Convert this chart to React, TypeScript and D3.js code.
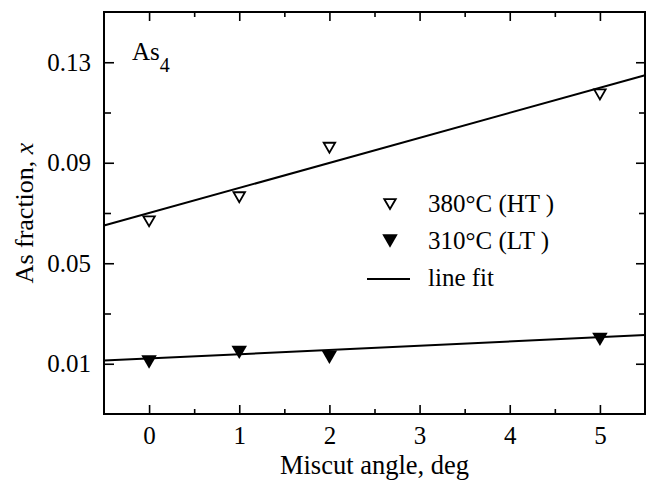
import React from 'react';
import * as d3 from 'd3';

// miscut angle (deg) where samples were measured
const angles = [0, 1, 2, 5];
// As fraction x, grown at 380 C (HT) and 310 C (LT)
const htValues = [0.0667, 0.0763, 0.096, 0.1172];
const ltValues = [0.0107, 0.0145, 0.0126, 0.0197];
// line fits: [intercept, slope]
const htFit = [0.07, 0.00997];
const ltFit = [0.0121, 0.0017];

const xMajor = [0, 1, 2, 3, 4, 5];
const xMinor = [0.5, 1.5, 2.5, 3.5, 4.5];
const yMajor = [0.01, 0.05, 0.09, 0.13];
const yMinor = [0.03, 0.07, 0.11];

const legendLabels = ['380°C (HT )', '310°C (LT )', 'line fit'];

const W = 649;
const H = 480;
const margin = { top: 12, right: 4, bottom: 66, left: 104 };
const font = '"Liberation Serif", "Times New Roman", serif';

// down-pointing triangle centred on its bounding box, size = width
const triDown = {
	draw(context: any, size: number) {
		const w = size / 2;
		const h = size * 0.86;
		context.moveTo(-w, -h / 2);
		context.lineTo(w, -h / 2);
		context.lineTo(0, h / 2);
		context.closePath();
	},
};

function Chart() {
	const ref = React.useRef<SVGSVGElement>(null);

	React.useEffect(() => {
		const svg = d3.select(ref.current);
		svg.selectAll('*').remove();

		const x = d3
			.scaleLinear()
			.domain([-0.5, 5.5])
			.range([margin.left, W - margin.right]);
		const y = d3
			.scaleLinear()
			.domain([-0.01, 0.15])
			.range([H - margin.bottom, margin.top]);

		const [x0, x1] = x.range();
		const [y0, y1] = y.range();

		const axisStyle = (g: any) =>
			g
				.call((g: any) => g.select('.domain').remove())
				.call((g: any) => g.selectAll('line').attr('stroke', '#000').attr('stroke-width', 1.6))
				.call((g: any) =>
					g
						.selectAll('text')
						.attr('fill', '#000')
						.style('font-family', font)
						.style('font-size', '25px')
				);

		// bottom
		svg
			.append('g')
			.attr('transform', `translate(0,${y0})`)
			.call(d3.axisBottom(x).tickValues(xMajor).tickSize(-9).tickPadding(12).tickFormat(d3.format('d')))
			.call(axisStyle);
		svg
			.append('g')
			.attr('transform', `translate(0,${y0})`)
			.call(d3.axisBottom(x).tickValues(xMinor).tickSize(-5).tickFormat(() => ''))
			.call(axisStyle);
		// top
		svg
			.append('g')
			.attr('transform', `translate(0,${y1})`)
			.call(d3.axisTop(x).tickValues(xMajor).tickSize(-9).tickFormat(() => ''))
			.call(axisStyle);
		svg
			.append('g')
			.attr('transform', `translate(0,${y1})`)
			.call(d3.axisTop(x).tickValues(xMinor).tickSize(-5).tickFormat(() => ''))
			.call(axisStyle);
		// left
		svg
			.append('g')
			.attr('transform', `translate(${x0},0)`)
			.call(d3.axisLeft(y).tickValues(yMajor).tickSize(-10).tickPadding(13).tickFormat(d3.format('.2f')))
			.call(axisStyle);
		svg
			.append('g')
			.attr('transform', `translate(${x0},0)`)
			.call(d3.axisLeft(y).tickValues(yMinor).tickSize(-7).tickFormat(() => ''))
			.call(axisStyle);
		// right
		svg
			.append('g')
			.attr('transform', `translate(${x1},0)`)
			.call(d3.axisRight(y).tickValues(yMajor).tickSize(-9).tickFormat(() => ''))
			.call(axisStyle);
		svg
			.append('g')
			.attr('transform', `translate(${x1},0)`)
			.call(d3.axisRight(y).tickValues(yMinor).tickSize(-6).tickFormat(() => ''))
			.call(axisStyle);

		// frame
		svg
			.append('rect')
			.attr('x', x0)
			.attr('y', y1)
			.attr('width', x1 - x0)
			.attr('height', y0 - y1)
			.attr('fill', 'none')
			.attr('stroke', '#000')
			.attr('stroke-width', 2);

		// fit lines
		const line = d3
			.line<number[]>()
			.x((d) => x(d[0]))
			.y((d) => y(d[1]));
		[htFit, ltFit].forEach(([a, b]) => {
			const pts = x.domain().map((t) => [t, a + b * t]);
			svg
				.append('path')
				.attr('d', line(pts))
				.attr('fill', 'none')
				.attr('stroke', '#000')
				.attr('stroke-width', 2);
		});

		const openSym = d3.symbol().type(triDown as any).size(11.5)();
		const fillSym = d3.symbol().type(triDown as any).size(15.5)();

		svg
			.append('g')
			.selectAll('path')
			.data(angles.map((a, i) => [a, htValues[i]]))
			.join('path')
			.attr('transform', (d) => `translate(${x(d[0])},${y(d[1])})`)
			.attr('d', openSym)
			.attr('fill', '#fff')
			.attr('stroke', '#000')
			.attr('stroke-width', 1.8)
			.attr('stroke-linejoin', 'miter');

		svg
			.append('g')
			.selectAll('path')
			.data(angles.map((a, i) => [a, ltValues[i]]))
			.join('path')
			.attr('transform', (d) => `translate(${x(d[0])},${y(d[1])})`)
			.attr('d', fillSym)
			.attr('fill', '#000');

		// legend
		const lg = svg.append('g').style('font-family', font).style('font-size', '25px');
		lg.append('path')
			.attr('transform', 'translate(390,204)')
			.attr('d', openSym)
			.attr('fill', '#fff')
			.attr('stroke', '#000')
			.attr('stroke-width', 1.8);
		lg.append('path').attr('transform', 'translate(390,241)').attr('d', fillSym).attr('fill', '#000');
		lg.append('line')
			.attr('x1', 367)
			.attr('x2', 410)
			.attr('y1', 279)
			.attr('y2', 279)
			.attr('stroke', '#000')
			.attr('stroke-width', 2);
		[212, 249, 286].forEach((by, i) => {
			lg.append('text').attr('x', 428).attr('y', by).attr('fill', '#000').text(legendLabels[i]);
		});

		// As4 label
		const as = svg
			.append('text')
			.attr('x', 132)
			.attr('y', 60)
			.style('font-family', font)
			.style('font-size', '25px')
			.attr('fill', '#000');
		as.append('tspan').text('As');
		as.append('tspan').attr('dy', 12).style('font-size', '20px').text('4');

		// axis titles
		svg
			.append('text')
			.attr('x', (x0 + x1) / 2)
			.attr('y', 474)
			.attr('text-anchor', 'middle')
			.style('font-family', font)
			.style('font-size', '26.5px')
			.attr('fill', '#000')
			.text('Miscut angle, deg');

		const yt = svg
			.append('text')
			.attr('transform', `translate(33,${(y0 + y1) / 2}) rotate(-90)`)
			.attr('text-anchor', 'middle')
			.style('font-family', font)
			.style('font-size', '26px')
			.attr('fill', '#000');
		yt.append('tspan').text('As fraction, ');
		yt.append('tspan').style('font-style', 'italic').text('x');
	}, []);

	return (
		<svg
			ref={ref}
			width={W}
			height={H}
			style={{ position: 'absolute', left: 0, top: 0, background: '#fff' }}
		/>
	);
}

export default function App() {
	return <Chart />;
}
